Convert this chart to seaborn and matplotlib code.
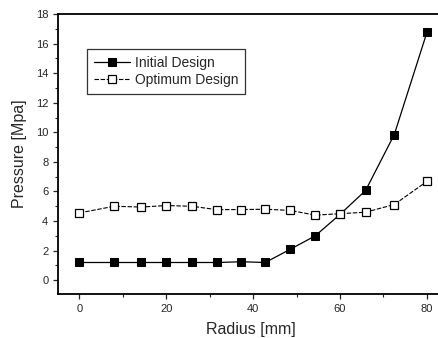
import numpy as np
import pandas as pd
import seaborn as sns
import matplotlib.pyplot as plt
from matplotlib.ticker import MultipleLocator

radius = [0, 8, 14.3, 20, 26, 31.7, 37.3, 42.8, 48.6, 54.3, 60, 65.9, 72.5, 80]
initial = [1.2, 1.2, 1.2, 1.2, 1.2, 1.2, 1.25, 1.2, 2.1, 3.0, 4.45, 6.07, 9.85, 16.75]
optimum = [4.55, 5.0, 4.95, 5.05, 5.0, 4.77, 4.78, 4.8, 4.72, 4.4, 4.5, 4.6, 5.12, 6.68]

df = pd.DataFrame({"Radius": radius, "Initial": initial, "Optimum": optimum})

sns.set_style("ticks")
plt.rcParams['font.family'] = ['Liberation Sans', 'DejaVu Sans']

fig = plt.figure(figsize=(4.39, 3.38), dpi=100)
ax = fig.add_axes([58 / 439, 1 - 294 / 338, 1 - 58 / 439 + 0.01, (294 - 14) / 338])

sns.lineplot(data=df, x="Radius", y="Initial", ax=ax, color="black", lw=0.9,
             marker="s", markersize=6, markerfacecolor="black",
             markeredgecolor="black", label="Initial Design")
sns.lineplot(data=df, x="Radius", y="Optimum", ax=ax, color="black", lw=0.8,
             linestyle=(0, (4, 1.5)), marker="s", markersize=6,
             markerfacecolor="white", markeredgecolor="black",
             markeredgewidth=0.9, label="Optimum Design")

ax.set_xlim(-4.9, 83.8)
ax.set_ylim(-0.93, 18)
ax.xaxis.set_major_locator(MultipleLocator(20))
ax.xaxis.set_minor_locator(MultipleLocator(10))
ax.yaxis.set_major_locator(MultipleLocator(2))
ax.yaxis.set_minor_locator(MultipleLocator(1))
ax.tick_params(which="major", direction="out", length=3.5, width=0.9, labelsize=8)
ax.tick_params(which="minor", direction="out", length=2, width=0.8)
ax.spines["right"].set_visible(False)
for s in ["left", "bottom", "top"]:
    ax.spines[s].set_linewidth(1.3)
    ax.spines[s].set_color("black")

ax.set_xlabel("Radius [mm]", fontsize=11.5, labelpad=6)
ax.set_ylabel("Pressure [Mpa]", fontsize=11.5, labelpad=6)

leg = ax.legend(loc="upper left", bbox_to_anchor=(0.075, 0.875), fontsize=10,
                frameon=True, fancybox=False, edgecolor="black",
                handlelength=2.6, handletextpad=0.35, borderpad=0.5,
                labelspacing=0.2, borderaxespad=0)
leg.get_frame().set_linewidth(0.9)

fig.savefig("out.png", dpi=100)
